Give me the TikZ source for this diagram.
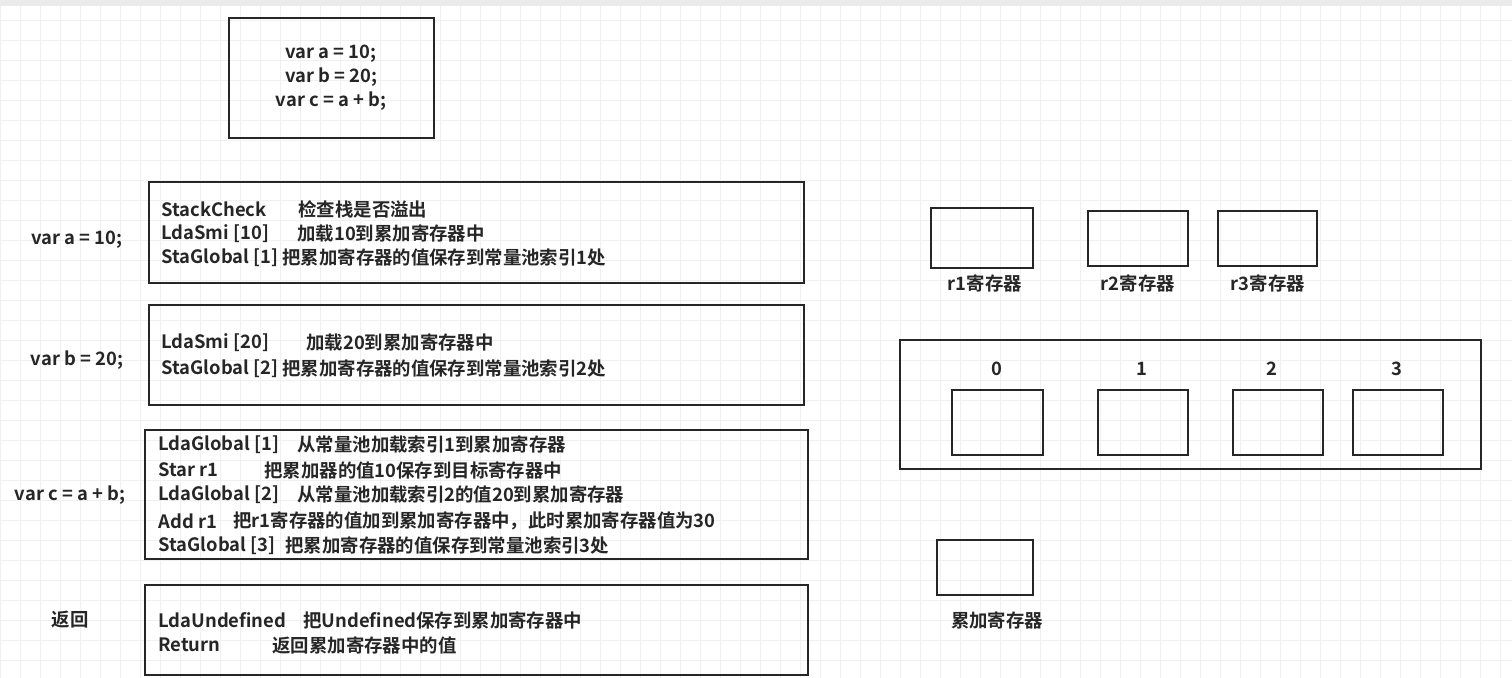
\documentclass[tikz,border=0pt]{standalone}
\usepackage{fontspec}
\setmainfont{Noto Sans CJK SC}[BoldFont={Noto Sans CJK SC Bold}]
\begin{document}
\begin{tikzpicture}[x=0.5pt,y=-0.5pt,
  box/.style={draw=black!85,line width=1pt},
  gridline/.style={black!6,line width=0.4pt},
  t/.style={anchor=west,inner sep=0pt,font=\fontsize{9.2}{11}\selectfont\bfseries,text=black!85},
  c/.style={inner sep=0pt,font=\fontsize{9.2}{11}\selectfont\bfseries,text=black!85}]
\useasboundingbox (0,0) rectangle (1512,678);
\fill[white] (0,0) rectangle (1512,678);
\foreach \i in {0,20,...,1500} \draw[gridline] (\i,0) -- (\i,678);
\foreach \j in {0,20,...,670} \draw[gridline] (0,\j) -- (1512,\j);
\fill[black!8] (0,0) rectangle (1512,6);
% code box
\draw[box] (229,18) rectangle (434,138);
\node[c,align=center] (code) at (331,78) {var a = 10;\\[1pt]var b = 20;\\[1pt]var c = a + b;};
% box 1
\draw[box] (149,182) rectangle (804,283);
\node[t] (a1) at (161,209) {StackCheck}; \node[t] (a1c) at (298,209) {检查栈是否溢出};
\node[t] (a2) at (161,234) {LdaSmi [10]}; \node[t] (a2c) at (297,234) {加载10到累加寄存器中};
\node[t] (a3) at (161,258) {StaGlobal [1]}; \node[t] (a3c) at (282,258) {把累加寄存器的值保存到常量池索引1处};
% box 2
\draw[box] (149,305) rectangle (804,405);
\node[t] (b1) at (161,343) {LdaSmi [20]}; \node[t] (b1c) at (306,343) {加载20到累加寄存器中};
\node[t] (b2) at (161,369) {StaGlobal [2]}; \node[t] (b2c) at (282,369) {把累加寄存器的值保存到常量池索引2处};
% box 3
\draw[box] (145,430) rectangle (808,559);
\node[t] (c1) at (158,445) {LdaGlobal [1]}; \node[t] (c1c) at (297,445) {从常量池加载索引1到累加寄存器};
\node[t] (c2) at (158,470) {Star r1}; \node[t] (c2c) at (264,470) {把累加器的值10保存到目标寄存器中};
\node[t] (c3) at (158,495) {LdaGlobal [2]}; \node[t] (c3c) at (297,495) {从常量池加载索引2的值20到累加寄存器};
\node[t] (c4) at (158,521) {Add r1}; \node[t] (c4c) at (233,521) {把r1寄存器的值加到累加寄存器中，此时累加寄存器值为30};
\node[t] (c5) at (158,546) {StaGlobal [3]}; \node[t] (c5c) at (285,546) {把累加寄存器的值保存到常量池索引3处};
% box 4
\draw[box] (145,585) rectangle (808,675);
\node[t] (d1) at (158,620) {LdaUndefined}; \node[t] (d1c) at (303,620) {把Undefined保存到累加寄存器中};
\node[t] (d2) at (158,645) {Return}; \node[t] (d2c) at (272,645) {返回累加寄存器中的值};
% left labels
\node[c] (la) at (77,240) {var a = 10;};
\node[c] (lb) at (77,360) {var b = 20;};
\node[c] (lc) at (70,495) {var c = a + b;};
\node[c] (ld) at (70,620) {返回};
% registers
\draw[box] (931,208) rectangle (1033,268);
\node[c] (r1) at (985,283) {r1寄存器};
\draw[box] (1088,211) rectangle (1188,266);
\node[c] (r2) at (1138,283) {r2寄存器};
\draw[box] (1218,211) rectangle (1317,266);
\node[c] (r3) at (1268,283) {r3寄存器};
% constant pool
\draw[box] (900,340) rectangle (1481,469);
\node[c] (n0) at (997,369) {0};
\node[c] (n1) at (1142,369) {1};
\node[c] (n2) at (1272,369) {2};
\node[c] (n3) at (1397,369) {3};
\draw[box] (952,390) rectangle (1043,455);
\draw[box] (1098,390) rectangle (1188,455);
\draw[box] (1233,390) rectangle (1323,455);
\draw[box] (1353,390) rectangle (1443,455);
% accumulator
\draw[box] (937,540) rectangle (1033,595);
\node[c] (acc) at (997,620) {累加寄存器};
\end{tikzpicture}
\end{document}
